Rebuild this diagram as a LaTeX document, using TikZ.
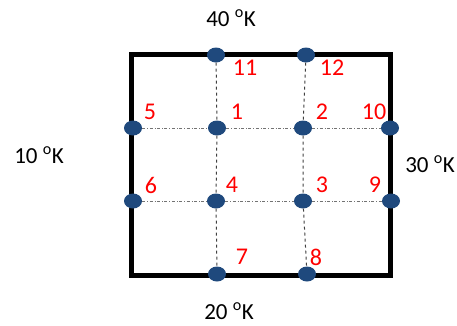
\documentclass[tikz,border=0pt]{standalone}
\usepackage{fontspec}
\setmainfont{Carlito}
\usetikzlibrary{shapes.geometric}
\definecolor{dotblue}{RGB}{31,73,125}
\tikzset{
  dot/.style={ellipse,fill=dotblue,minimum width=18pt,minimum height=15pt,inner sep=0pt},
  num/.style={text=red,font=\fontsize{24}{28}\selectfont,inner sep=0pt},
  temp/.style={font=\fontsize{23}{27}\selectfont,inner sep=0pt},
  vline/.style={dashed,line width=1pt,black!75},
  hline/.style={dash dot,line width=1pt,black!55}
}

\begin{document}
\begin{tikzpicture}[x=1pt,y=-1pt]
\useasboundingbox (0,0) rectangle (457,325);
\draw[line width=5pt] (131,54) rectangle (390,275);
\foreach \n/\x/\y in {11/216/55,12/306/55,5/133/128,1/217/128,2/303/128,10/390/128,6/133/201,4/216/201,3/303/201,9/391/201,7/217/274,8/307/274}{\node[dot] (n\n) at (\x,\y) {};}
\foreach \n/\x/\y in {11/245/68,12/332/68,5/150/112,1/237/112,2/322/112,10/374/112,6/151/185,4/232/185,3/322/185,9/375/185,7/242/257,8/316/257}{\node[num] (t\n) at (\x,\y) {\n};}
\draw[vline] (n11)--(n1)--(n4)--(n7);
\draw[vline] (n12)--(n2)--(n3)--(n8);
\draw[hline] (n5)--(n1)--(n2)--(n10);
\draw[hline] (n6)--(n4)--(n3)--(n9);
\node[temp] (top) at (231,18) {40 \textsuperscript{o}K};
\node[temp] (left) at (39,155) {10 \textsuperscript{o}K};
\node[temp] (right) at (430,164) {30 \textsuperscript{o}K};
\node[temp] (bottom) at (229,311) {20 \textsuperscript{o}K};
\end{tikzpicture}
\end{document}
